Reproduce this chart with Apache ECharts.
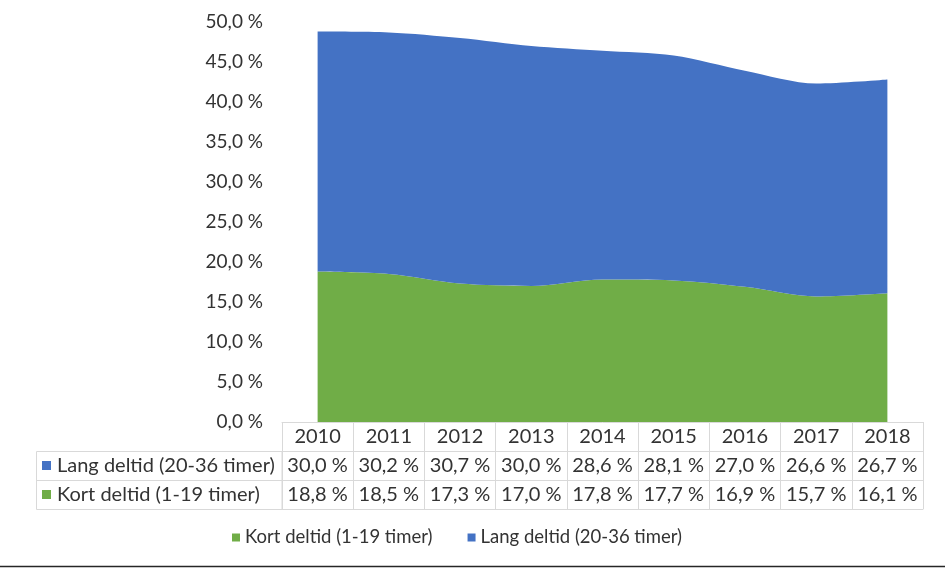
<!DOCTYPE html>
<html>
<head>
<meta charset="utf-8">
<script src="https://cdn.jsdelivr.net/npm/echarts@6/dist/echarts.min.js"></script>
<style>html,body{margin:0;padding:0;background:#fff}#c{width:945px;height:568px}</style>
</head>
<body>
<div id="c"></div>
<script>
const years = ['2010','2011','2012','2013','2014','2015','2016','2017','2018'];
const langValues = [30.0, 30.2, 30.7, 30.0, 28.6, 28.1, 27.0, 26.6, 26.7];
const kortValues = [18.8, 18.5, 17.3, 17.0, 17.8, 17.7, 16.9, 15.7, 16.1];
const langName = 'Lang deltid (20-36 timer)';
const kortName = 'Kort deltid (1-19 timer)';
const langColor = '#4472C4';
const kortColor = '#70AD47';

const FONT = 'Lato';
const TXT = '#333333';
const LINE = '#d9d9d9';
const ROW = 29;
const fmt = v => v.toFixed(1).replace('.', ',') + ' %';

const chart = echarts.init(document.getElementById('c'), null, {renderer: 'canvas'});

function tableAxis(idx, labels) {
  return {
    type: 'category', data: years, boundaryGap: true, position: 'bottom',
    offset: idx * ROW, gridIndex: 0,
    axisLine: {show: true, lineStyle: {color: LINE, width: 1}},
    axisTick: {show: labels !== null, length: ROW, lineStyle: {color: LINE, width: 1}},
    axisLabel: {show: labels !== null, interval: 0, margin: 0, lineHeight: ROW, fontSize: 20,
      fontFamily: FONT, color: TXT,
      formatter: (v, i) => labels ? labels(v, i) : ''}
  };
}

const option = {
  animation: false,
  textStyle: {fontFamily: FONT},
  grid: {left: 282, right: 22, top: 22, bottom: 146, containLabel: false},
  legend: {
    data: [kortName, langName], left: 232, top: 528, padding: 0, icon: 'rect', itemWidth: 8, itemHeight: 8,
    itemGap: 35, textStyle: {fontSize: 18.5, fontFamily: FONT, color: TXT}
  },
  xAxis: [
    tableAxis(0, v => v),
    tableAxis(1, (v, i) => fmt(langValues[i])),
    tableAxis(2, (v, i) => fmt(kortValues[i])),
    tableAxis(3, null)
  ],
  yAxis: {
    type: 'value', min: 0, max: 50, interval: 5,
    axisLine: {show: false}, axisTick: {show: false}, splitLine: {show: false},
    axisLabel: {formatter: fmt, fontSize: 19, fontFamily: FONT, color: TXT, margin: 19}
  },
  series: [
    {name: kortName, type: 'line', stack: 'total', data: kortValues, smooth: 0.3, symbol: 'none',
     lineStyle: {width: 0}, areaStyle: {color: kortColor, opacity: 1}, itemStyle: {color: kortColor}},
    {name: langName, type: 'line', stack: 'total', data: langValues, smooth: 0.3, symbol: 'none',
     lineStyle: {width: 0}, areaStyle: {color: langColor, opacity: 1}, itemStyle: {color: langColor}}
  ],
  graphic: [
    {type: 'rect', shape: {x: 36.5, y: 451.5, width: 245.5, height: 58}, style: {fill: null, stroke: LINE, lineWidth: 1}, silent: true},
    {type: 'line', shape: {x1: 36.5, y1: 480.5, x2: 282, y2: 480.5}, style: {stroke: LINE, lineWidth: 1}, silent: true},
    {type: 'rect', shape: {x: 42, y: 461, width: 9, height: 9}, style: {fill: langColor}},
    {type: 'text', x: 57, y: 466, style: {text: langName, font: '20px ' + FONT, fill: TXT, verticalAlign: 'middle'}},
    {type: 'rect', shape: {x: 42, y: 490, width: 9, height: 9}, style: {fill: kortColor}},
    {type: 'text', x: 57, y: 495, style: {text: kortName, font: '20px ' + FONT, fill: TXT, verticalAlign: 'middle'}},
    {type: 'line', shape: {x1: 0, y1: 566.5, x2: 945, y2: 566.5}, style: {stroke: '#262626', lineWidth: 1.5}, silent: true}
  ]
};
chart.setOption(option);
</script>
</body>
</html>
